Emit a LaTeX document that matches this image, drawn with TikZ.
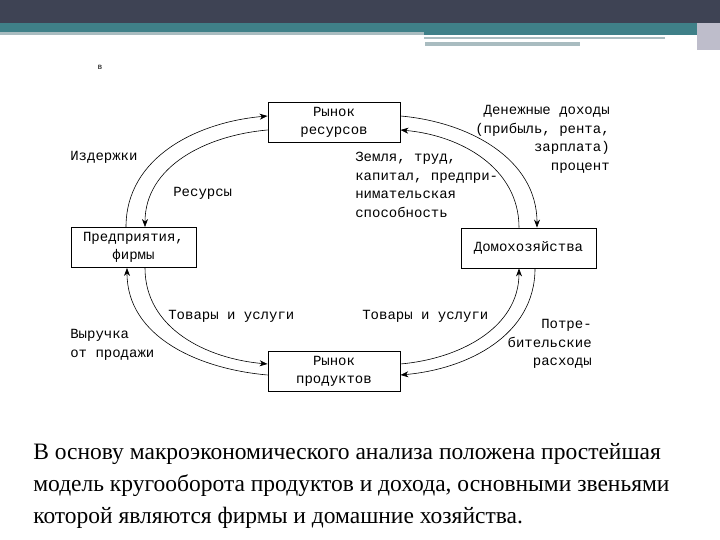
\documentclass[tikz,border=0pt]{standalone}
\usepackage{fontspec}
\setmainfont{Liberation Serif}
\newfontfamily\monofont{Liberation Mono}
\newfontfamily\labelfont{Liberation Sans}
\usetikzlibrary{arrows.meta}
\definecolor{topdark}{HTML}{3E4354}
\definecolor{topteal}{HTML}{3F8088}
\definecolor{topgrey}{HTML}{A9BCC0}
\definecolor{topside}{HTML}{BEBDCB}

\begin{document}
\begin{tikzpicture}[x=1pt,y=1pt,line width=0.6pt,>={Stealth[length=8pt,width=6pt]},
  market/.style={draw,line width=0.9pt,minimum width=132pt,minimum height=40pt,inner sep=0pt,
    align=center,font=\monofont\fontsize{14}{18}\selectfont},
  note/.style={inner sep=0pt,font=\monofont\fontsize{14}{18.5}\selectfont},
  flow/.style={->,line width=0.6pt}]
  \useasboundingbox (0,0) rectangle (720,540);
  \fill[topdark] (0,517) rectangle (720,540);
  \fill[topteal] (0,508) rectangle (720,517);
  \fill[topgrey] (0,505) rectangle (424,508);
  \fill[topteal] (424,505) rectangle (697,508);
  \fill[topgrey] (424,501) rectangle (665,503);
  \fill[topgrey] (425,494) rectangle (580,498);
  \fill[topside] (697,490) rectangle (720,517);
  \node[font=\labelfont\fontsize{8}{9}\selectfont] (mark) at (100,473) {в};

  \node[market] (res) at (334,417.5) {Рынок\\ресурсов};
  \node[market,minimum width=125pt] (firm) at (133.5,292.5) {Предприятия,\\фирмы};
  \node[market,minimum width=135pt] (home) at (528.5,292) {Домохозяйства};
  \node[market] (prod) at (334,168.5) {Рынок\\продуктов};

  \draw[flow] ([xshift=-7.5pt]firm.north) to[out=90,in=185] ([yshift=6.5pt]res.west);
  \draw[flow] ([yshift=-7.5pt]res.west) to[out=185,in=90] ([xshift=11.5pt]firm.north);
  \draw[flow] ([yshift=6.5pt]res.east) to[out=-5,in=90] ([xshift=8.5pt]home.north);
  \draw[flow] ([xshift=-9.5pt]home.north) to[out=90,in=-5] ([yshift=-7.5pt]res.east);
  \draw[flow] ([xshift=11.5pt]firm.south) to[out=-90,in=175] ([yshift=7.5pt]prod.west);
  \draw[flow] ([yshift=-3.5pt]prod.west) to[out=175,in=-90] ([xshift=-6.5pt]firm.south);
  \draw[flow] ([yshift=7.5pt]prod.east) to[out=5,in=-90] ([xshift=-9.5pt]home.south);
  \draw[flow] ([xshift=6.5pt]home.south) to[out=-90,in=5] ([yshift=-3.5pt]prod.east);

  \node[note,anchor=west] (costs) at (70,383) {Издержки};
  \node[note,anchor=west] (inputs) at (173,347) {Ресурсы};
  \node[note,anchor=north west,align=left] (factors) at (355,388)
    {Земля, труд,\\капитал, предпри-\\нимательская\\способность};
  \node[note,anchor=north east,align=right] (income) at (610,435)
    {Денежные доходы\\(прибыль, рента,\\зарплата)\\процент};
  \node[note,anchor=west] (goodsl) at (168,224) {Товары и услуги};
  \node[note,anchor=west] (goodsr) at (362,224) {Товары и услуги};
  \node[note,anchor=north west,align=left] (revenue) at (70,211) {Выручка\\от продажи};
  \node[note,anchor=north east,align=right] (spend) at (592,221)
    {Потре-\\бительские\\расходы};

  \node[anchor=north west,align=left,inner sep=0pt,font=\fontsize{23.5}{32}\selectfont] (caption) at (33,97)
    {В основу макроэкономического анализа положена простейшая\\
     модель кругооборота продуктов и дохода, основными звеньями\\
     которой являются фирмы и домашние хозяйства.};
\end{tikzpicture}
\end{document}
